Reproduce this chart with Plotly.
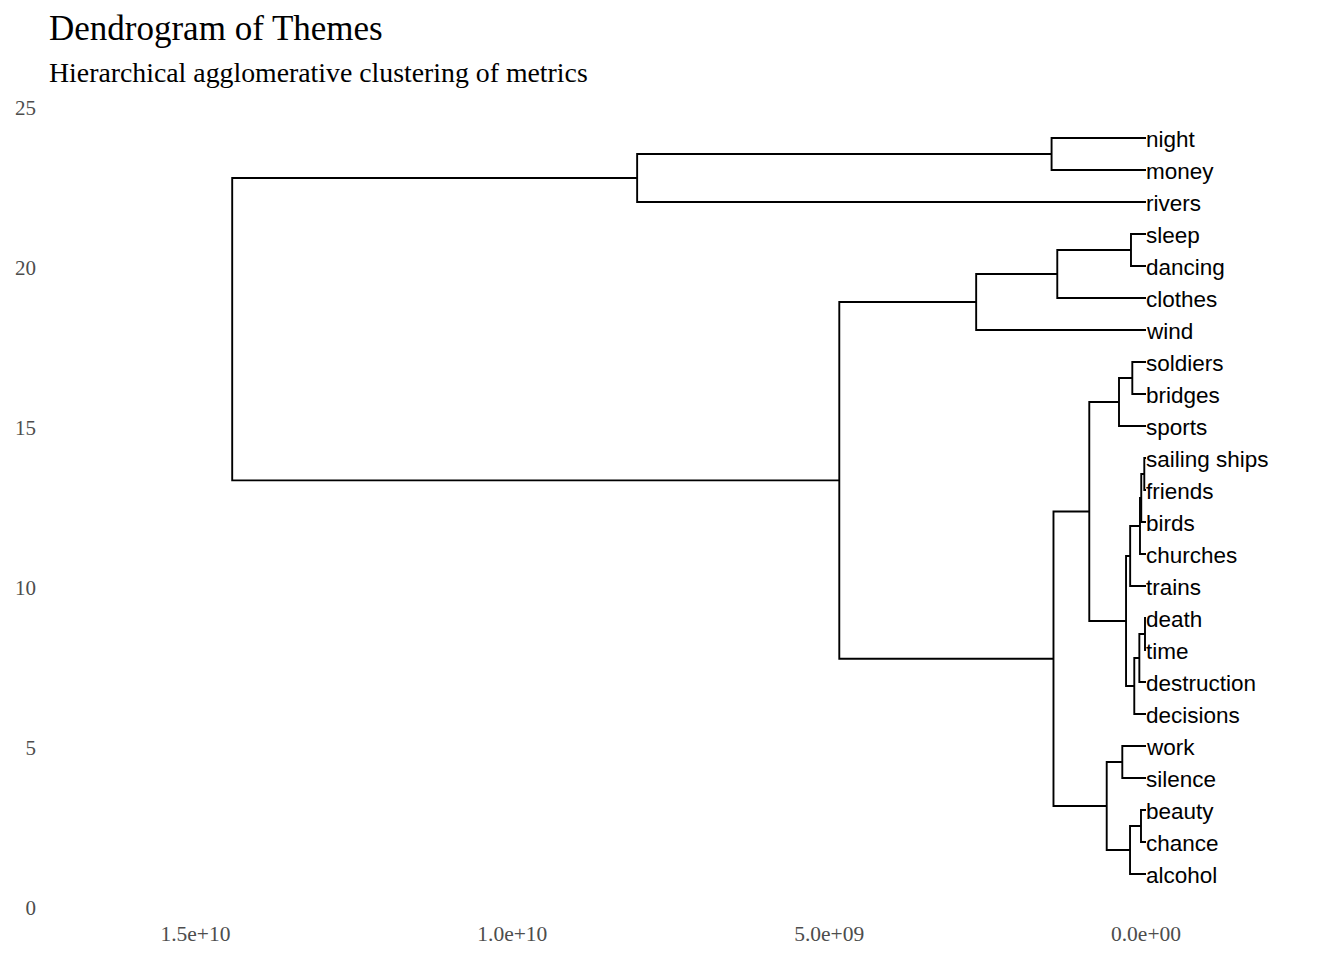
import plotly.graph_objects as go

# Leaves, bottom to top (y = 1 .. 24)
leaf_labels = ["alcohol", "chance", "beauty", "silence", "work", "decisions",
               "destruction", "time", "death", "trains", "churches", "birds",
               "friends", "sailing ships", "sports", "bridges", "soldiers",
               "wind", "clothes", "dancing", "sleep", "rivers", "money", "night"]

# Agglomeration steps: pairs of members (leaf names or earlier merge ids "m<k>")
merge_left = ["night", "m0", "sleep", "m2", "m3", "soldiers", "m5",
              "sailing ships", "m7", "m8", "m9", "death", "m11", "m12", "m10",
              "m6", "work", "beauty", "m17", "m16", "m15", "m4", "m1"]
merge_right = ["money", "rivers", "dancing", "clothes", "wind", "bridges", "sports",
               "friends", "birds", "churches", "trains", "time", "destruction",
               "decisions", "m13", "m14", "silence", "chance", "alcohol", "m18",
               "m19", "m20", "m21"]
# Merge heights
merge_height = [1.49e9, 8.03e9, 0.237e9, 1.40e9, 2.68e9, 0.216e9, 0.426e9,
                0.027e9, 0.075e9, 0.095e9, 0.25e9, 0.016e9, 0.105e9, 0.185e9,
                0.315e9, 0.895e9, 0.374e9, 0.079e9, 0.252e9, 0.62e9, 1.46e9,
                4.84e9, 14.42e9]

x_tick_vals = [0, 5e9, 1e10, 1.5e10]
x_tick_text = ["0.0e+00", "5.0e+09", "1.0e+10", "1.5e+10"]
y_tick_vals = [0, 5, 10, 15, 20, 25]

# node positions
pos = {}
for i, name in enumerate(leaf_labels):
    pos[name] = (0.0, float(i + 1))

xs, ys = [], []
for k, (a, b, h) in enumerate(zip(merge_left, merge_right, merge_height)):
    ha, ya = pos[a]
    hb, yb = pos[b]
    xs += [ha, h, h, hb, None]
    ys += [ya, ya, yb, yb, None]
    pos[f"m{k}"] = (h, (ya + yb) / 2)

fig = go.Figure()
fig.add_trace(go.Scatter(x=xs, y=ys, mode="lines",
                         line=dict(color="black", width=1.9),
                         hoverinfo="skip", showlegend=False))

annotations = []
for i, name in enumerate(leaf_labels):
    annotations.append(dict(x=0, y=i + 1, xref="x", yref="y", text=name,
                            showarrow=False, xanchor="left", yanchor="middle",
                            xshift=-1, yshift=-1, borderpad=0,
                            font=dict(family="Liberation Sans, Arial, sans-serif",
                                      size=22.5, color="black")))

W, H = 1344, 960
left_px, right_px = 48, 1330
top_px, bottom_px = 92, 916
pw = right_px - left_px
ph = bottom_px - top_px


def px_to_paper_y(py):
    return (bottom_px - py) / ph


annotations.append(dict(x=0, y=px_to_paper_y(29), xref="paper", yref="paper",
                        text="Dendrogram of Themes", showarrow=False,
                        xanchor="left", yanchor="middle", borderpad=0,
                        font=dict(family="Liberation Serif, Times New Roman, serif",
                                  size=35, color="black")))
annotations.append(dict(x=0, y=px_to_paper_y(73), xref="paper", yref="paper",
                        text="Hierarchical agglomerative clustering of metrics",
                        showarrow=False, xanchor="left", yanchor="middle", borderpad=0,
                        font=dict(family="Liberation Serif, Times New Roman, serif",
                                  size=27.8, color="black")))

px_per = 63.37 / 1e9
x_left_val = (1146 - left_px) / px_per
x_right_val = (1146 - right_px) / px_per

y_zero_px, y_px_per = 906, 32.0
y_bottom_val = (y_zero_px - bottom_px) / y_px_per
y_top_val = (y_zero_px - top_px) / y_px_per

fig.update_layout(
    width=W, height=H,
    margin=dict(l=left_px, r=W - right_px, t=top_px, b=H - bottom_px,
                autoexpand=False),
    plot_bgcolor="white", paper_bgcolor="white",
    annotations=annotations,
    xaxis=dict(range=[x_left_val, x_right_val], automargin=False,
               tickvals=x_tick_vals, ticktext=x_tick_text,
               showgrid=False, zeroline=False, showline=False, ticks="",
               ticklabelstandoff=2,
               tickfont=dict(family="Liberation Serif, Times New Roman, serif",
                             size=21.5, color="#4d4d4d")),
    yaxis=dict(range=[y_bottom_val, y_top_val], automargin=False,
               tickvals=y_tick_vals,
               showgrid=False, zeroline=False, showline=False, ticks="",
               ticklabelstandoff=11, ticklabelshift=2,
               tickfont=dict(family="Liberation Serif, Times New Roman, serif",
                             size=21, color="#4d4d4d")),
)

fig.write_html("out.html")
